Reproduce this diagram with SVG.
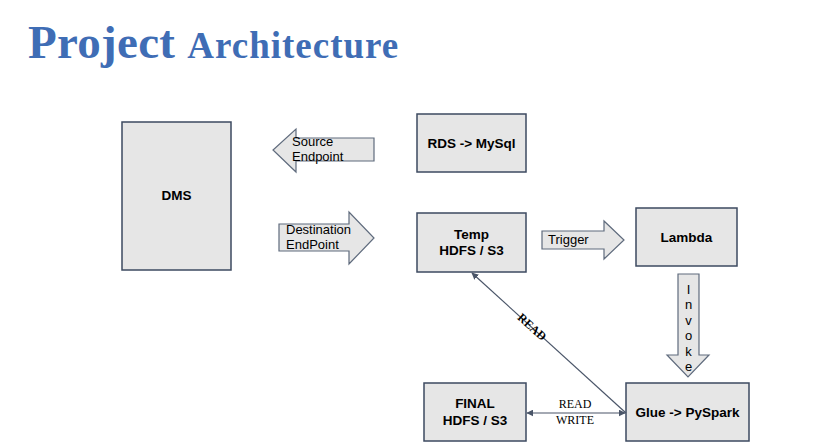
<svg xmlns="http://www.w3.org/2000/svg" width="828" height="448" viewBox="0 0 828 448">
<style>
.box{fill:#e6e6e6;stroke:#3d4a60;stroke-width:1.5}
.arr{fill:#e6e6e6;stroke:#5f6b7d;stroke-width:1.2}
.bt{font-family:"Liberation Sans",Arial,sans-serif;font-size:13.5px;font-weight:bold;fill:#000;text-anchor:middle}
.at{font-family:"Liberation Sans",Arial,sans-serif;font-size:13px;fill:#000}
.st{font-family:"Liberation Serif","Times New Roman",serif;font-size:12px;fill:#000;text-anchor:middle}
.ln{stroke:#4a5568;stroke-width:1.2;fill:none}
</style>
<defs>
<marker id="ah" viewBox="0 0 10 10" refX="9" refY="5" markerWidth="7" markerHeight="7" markerUnits="userSpaceOnUse" orient="auto-start-reverse">
<path d="M0,0 L10,5 L0,10 z" fill="#4a5568"/>
</marker>
</defs>
<rect width="828" height="448" fill="#fff"/>
<g id="title">
<text x="28" y="58" font-family="Liberation Serif,'Times New Roman',serif" font-weight="bold" fill="#3f6db5"><tspan font-size="47" textLength="147">Project</tspan><tspan font-size="37" dx="12" textLength="211">Architecture</tspan></text>
</g>
<g id="dms"><rect class="box" x="122" y="122" width="109" height="148"/><text class="bt" x="176.5" y="200">DMS</text></g>
<g id="rds"><rect class="box" x="417" y="114" width="109" height="58"/><text class="bt" x="471.5" y="148">RDS -&gt; MySql</text></g>
<g id="temp"><rect class="box" x="417" y="213" width="109" height="59"/><text class="bt" x="471.5" y="239">Temp</text><text class="bt" x="471.5" y="255">HDFS / S3</text></g>
<g id="lambda"><rect class="box" x="636" y="208" width="101" height="58"/><text class="bt" x="686.5" y="242">Lambda</text></g>
<g id="final"><rect class="box" x="424" y="383" width="102" height="58"/><text class="bt" x="475" y="408">FINAL</text><text class="bt" x="475" y="425">HDFS / S3</text></g>
<g id="glue"><rect class="box" x="626" y="383" width="123" height="58"/><text class="bt" x="687.5" y="417">Glue -&gt; PySpark</text></g>
<g id="connectors">
<g id="source-endpoint"><path class="arr" d="M374,138 L296,138 L296,129 L273,150 L296,172 L296,161 L374,161 Z"/><text class="at" x="292" y="146">Source</text><text class="at" x="292" y="161">Endpoint</text></g>
<g id="destination-endpoint"><path class="arr" d="M279,224 L349,224 L349,212 L374,238 L349,264 L349,251 L279,251 Z"/><text class="at" x="286" y="234">Destination</text><text class="at" x="286" y="249">EndPoint</text></g>
<g id="trigger"><path class="arr" d="M542,231 L604,231 L604,221 L624,240 L604,259 L604,249 L542,249 Z"/><text class="at" x="548" y="244">Trigger</text></g>
<g id="invoke"><path class="arr" d="M678,274 L699,274 L699,355 L709,355 L688,377 L667,355 L678,355 Z"/>
<text class="at" text-anchor="middle" x="688.5" y="294">I</text><text class="at" text-anchor="middle" x="688.5" y="309">n</text><text class="at" text-anchor="middle" x="688.5" y="325">v</text><text class="at" text-anchor="middle" x="688.5" y="340">o</text><text class="at" text-anchor="middle" x="688.5" y="356">k</text><text class="at" text-anchor="middle" x="688.5" y="371">e</text></g>
<g id="read-diag"><line class="ln" x1="626" y1="413" x2="472" y2="273" marker-end="url(#ah)"/><text class="st" font-weight="bold" transform="translate(532,327) rotate(42)" y="4">READ</text></g>
<g id="read-write"><line class="ln" x1="527" y1="413" x2="625" y2="413" marker-start="url(#ah)" marker-end="url(#ah)"/><text class="st" x="575" y="408">READ</text><text class="st" x="575" y="424">WRITE</text></g>
</g>
</svg>
